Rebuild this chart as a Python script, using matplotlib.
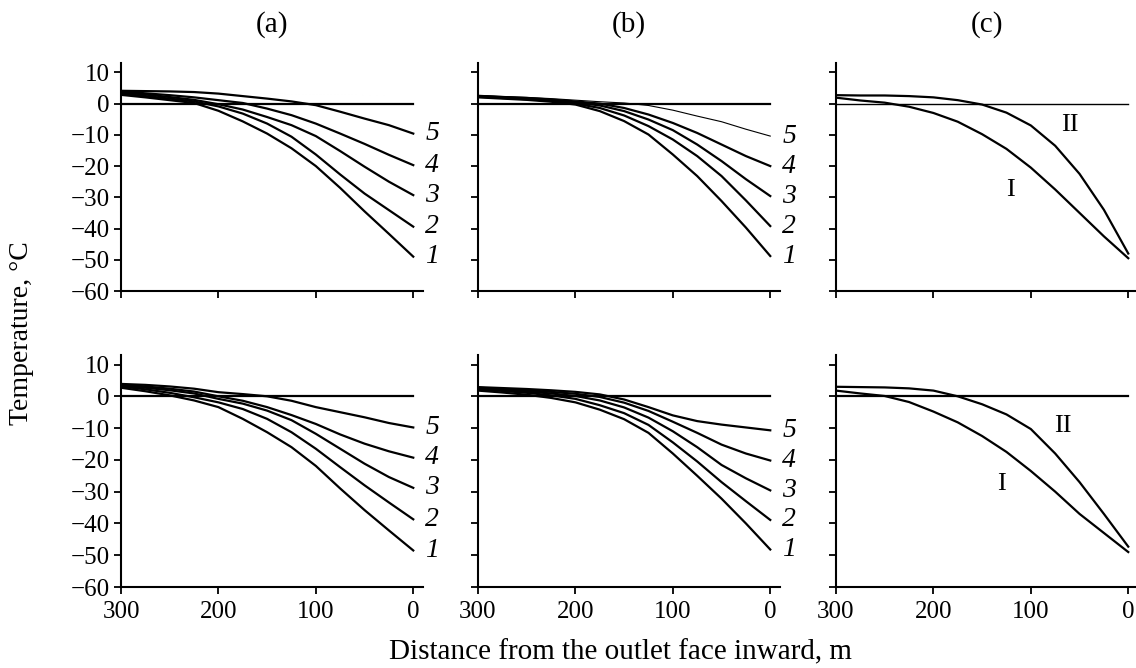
import matplotlib
matplotlib.use("Agg")
import matplotlib.pyplot as plt

plt.rcParams['font.family'] = ['Liberation Serif', 'DejaVu Serif']

# distance from outlet face inward, m
distance = [300, 275, 250, 225, 200, 175, 150, 125, 100, 75, 50, 25, 0]

# Panel (a), top row: curves 1..5
a_top_1 = [2.8, 2.0, 1.1, 0.2, -2.3, -5.7, -9.6, -14.3, -20.0, -27.0, -34.5, -41.7, -49.0]
a_top_2 = [3.2, 2.4, 1.6, 0.7, -0.9, -3.2, -6.4, -10.6, -16.3, -22.7, -28.8, -34.1, -39.4]
a_top_3 = [3.6, 2.9, 2.1, 1.2, -0.2, -1.9, -4.3, -6.9, -10.4, -15.2, -20.2, -25.0, -29.3]
a_top_4 = [3.9, 3.3, 2.7, 2.0, 1.1, 0.2, -1.6, -3.7, -6.4, -9.6, -12.9, -16.4, -19.7]
a_top_5 = [4.1, 4.0, 3.9, 3.7, 3.2, 2.4, 1.6, 0.7, -0.5, -2.6, -4.8, -6.9, -9.6]

# Panel (b), top row
b_top_1 = [2.0, 1.6, 1.2, 0.6, -0.3, -2.4, -5.6, -9.9, -16.3, -23.2, -31.2, -39.7, -48.8]
b_top_2 = [2.2, 1.8, 1.4, 0.9, 0.0, -1.4, -3.8, -7.2, -11.5, -16.8, -23.2, -31.0, -39.2]
b_top_3 = [2.4, 2.0, 1.6, 1.1, 0.4, -0.6, -2.4, -5.1, -8.5, -13.1, -18.4, -24.2, -29.6]
b_top_4 = [2.5, 2.1, 1.8, 1.3, 0.7, 0.0, -1.4, -3.5, -6.2, -9.4, -13.1, -16.8, -20.0]
b_top_5 = [2.6, 2.3, 2.0, 1.6, 1.1, 0.6, 0.2, -0.6, -2.1, -4.0, -5.8, -8.2, -10.4]

# Panel (c), top row: curves I and II
c_top_I = [1.9, 1.0, 0.3, -1.0, -3.0, -5.8, -9.8, -14.5, -20.5, -27.5, -35.0, -42.5, -49.5]
c_top_II = [2.7, 2.6, 2.6, 2.4, 2.0, 1.1, -0.3, -2.9, -7.0, -13.5, -22.5, -34.0, -48.0]

# Panel (a), bottom row
a_bot_1 = [2.7, 1.6, 0.3, -1.3, -3.4, -7.1, -11.3, -16.0, -21.9, -29.0, -35.8, -42.2, -48.5]
a_bot_2 = [3.1, 2.2, 1.1, -0.3, -1.9, -4.0, -7.1, -11.3, -16.5, -22.3, -28.0, -33.4, -38.7]
a_bot_3 = [3.4, 2.7, 1.9, 0.9, -0.8, -2.3, -4.5, -7.5, -11.8, -16.5, -21.2, -25.4, -28.8]
a_bot_4 = [3.7, 3.1, 2.4, 1.5, 0.0, -1.4, -3.4, -5.9, -8.7, -12.0, -14.9, -17.3, -19.3]
a_bot_5 = [3.9, 3.6, 3.1, 2.4, 1.3, 0.7, 0.0, -1.4, -3.4, -5.0, -6.6, -8.4, -9.8]

# Panel (b), bottom row
b_bot_1 = [1.8, 1.2, 0.5, -0.5, -1.9, -4.2, -7.2, -11.5, -18.0, -25.0, -32.2, -40.0, -48.2]
b_bot_2 = [2.2, 1.7, 1.1, 0.3, -0.8, -2.8, -5.3, -9.0, -14.5, -20.5, -27.0, -33.0, -38.9]
b_bot_3 = [2.5, 2.0, 1.5, 0.9, 0.1, -1.3, -3.5, -6.7, -11.0, -16.0, -21.6, -25.8, -29.6]
b_bot_4 = [2.7, 2.3, 1.9, 1.4, 0.8, -0.2, -2.0, -4.6, -8.0, -11.5, -15.2, -18.0, -20.2]
b_bot_5 = [2.9, 2.6, 2.3, 1.9, 1.4, 0.6, -1.0, -3.4, -6.0, -7.8, -8.9, -9.8, -10.7]

# Panel (c), bottom row
c_bot_I = [1.8, 0.9, 0.1, -1.8, -4.8, -8.2, -12.5, -17.5, -23.5, -30.0, -37.0, -43.0, -49.0]
c_bot_II = [3.0, 2.9, 2.8, 2.5, 1.8, 0.0, -2.5, -5.7, -10.3, -18.0, -27.0, -37.0, -47.3]

curve_labels = ['1', '2', '3', '4', '5']
roman_labels = ['I', 'II']
panel_titles = ['(a)', '(b)', '(c)']
y_ticks = [10, 0, -10, -20, -30, -40, -50, -60]
x_ticks = [300, 200, 100, 0]
ylabel_text = 'Temperature, °C'
xlabel_text = 'Distance from the outlet face inward, m'

W, H = 1136, 668
fig = plt.figure(figsize=(W / 100, H / 100), dpi=100)

col_left = [121, 478, 836]
col_width = 302
rows = [(63, 291), (355, 587)]

LW = 1.6
TICK_FS = 18
LABEL_FS = 20
ROMAN_FS = 19
TEXT_FS = 21


def make_ax(col, row):
    top, bot = rows[row]
    ax = fig.add_axes([col_left[col] / W, 1 - bot / H, col_width / W, (bot - top) / H])
    ax.set_xlim(300, -10)
    ax.set_ylim(-60, 13)
    for s in ['top', 'right']:
        ax.spines[s].set_visible(False)
    for s in ['left', 'bottom']:
        ax.spines[s].set_linewidth(1.5)
    ax.set_yticks(y_ticks)
    ax.set_xticks(x_ticks)
    ax.tick_params(direction='out', length=5, width=1.3, labelsize=TICK_FS, pad=3)
    if col == 0:
        ax.set_yticklabels(['\u2212' + str(-v) if v < 0 else str(v) for v in y_ticks])
    else:
        ax.set_yticklabels([])
    if row == 1:
        ax.set_xticklabels([str(v) for v in x_ticks])
    else:
        ax.set_xticklabels([])
    ax.tick_params(axis='x', pad=5)
    return ax


def numbered_panel(ax, series, widths):
    ax.plot([distance[0], distance[-1]], [0, 0], color='black', lw=LW)
    for vals, lab, w in zip(series, curve_labels, widths):
        ax.plot(distance, vals, color='black', lw=w, solid_joinstyle='round')
        ax.annotate(lab, xy=(distance[-1], vals[-1]), xytext=(13.5, 0),
                    textcoords='offset points', ha='center', va='center',
                    fontsize=LABEL_FS, style='italic', annotation_clip=False)


def roman_panel(ax, sI, sII, posI, posII, zero_lw):
    ax.plot([distance[0], distance[-1]], [0, 0], color='black', lw=zero_lw)
    ax.plot(distance, sI, color='black', lw=LW, solid_joinstyle='round')
    ax.plot(distance, sII, color='black', lw=LW, solid_joinstyle='round')
    ax.text(posI[0], posI[1], roman_labels[0], fontsize=ROMAN_FS, ha='center', va='center')
    ax.text(posII[0], posII[1], roman_labels[1], fontsize=ROMAN_FS, ha='center', va='center')


ax = make_ax(0, 0)
numbered_panel(ax, [a_top_1, a_top_2, a_top_3, a_top_4, a_top_5], [LW] * 5)
ax = make_ax(1, 0)
numbered_panel(ax, [b_top_1, b_top_2, b_top_3, b_top_4, b_top_5], [LW] * 4 + [0.8])
ax = make_ax(2, 0)
roman_panel(ax, c_top_I, c_top_II, (121, -27.7), (60, -6.9), 1.0)

ax = make_ax(0, 1)
numbered_panel(ax, [a_bot_1, a_bot_2, a_bot_3, a_bot_4, a_bot_5], [LW] * 5)
ax = make_ax(1, 1)
numbered_panel(ax, [b_bot_1, b_bot_2, b_bot_3, b_bot_4, b_bot_5], [LW] * 5)
ax = make_ax(2, 1)
roman_panel(ax, c_bot_I, c_bot_II, (130, -27.7), (67, -9.3), LW)

for i, t in enumerate(panel_titles):
    cx = (col_left[i] + col_width / 2) / W
    fig.text(cx, 1 - 25 / H, t, ha='center', va='center', fontsize=TEXT_FS)

fig.text(22 / W, 1 - 333 / H, ylabel_text, rotation=90, ha='center', va='center', fontsize=20)
fig.text(620 / W, 1 - 652 / H, xlabel_text, ha='center', va='center', fontsize=TEXT_FS)

fig.savefig('out.png', dpi=100)
